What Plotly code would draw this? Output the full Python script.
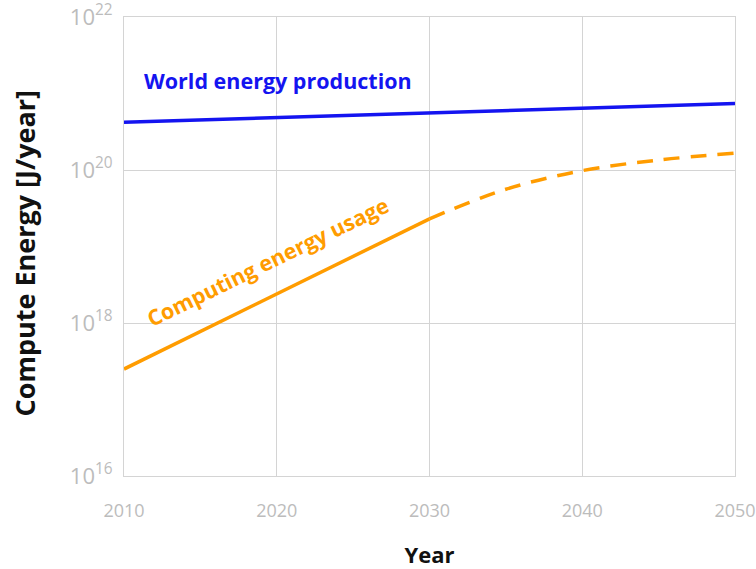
import plotly.graph_objects as go

years_world = [2010, 2030, 2050]
world_energy = [4.2e20, 5.6e20, 7.4e20]

years_compute_solid = [2010, 2030]
compute_solid = [2.5e17, 2.3e19]

years_compute_proj = [2030, 2035, 2040, 2045, 2050]
compute_proj = [2.3e19, 5.6e19, 9.8e19, 1.35e20, 1.66e20]

x_ticks = [2010, 2020, 2030, 2040, 2050]
y_tickvals = [1e16, 1e18, 1e20, 1e22]
y_ticktext = ["10<sup>16</sup>", "10<sup>18</sup>", "10<sup>20</sup>", "10<sup>22</sup>"]

BLUE = "#1414f0"
ORANGE = "#ff9c00"
GRID = "#d4d4d4"
TICK = "#bcbcbc"
FONT = "Open Sans"

fig = go.Figure()
fig.add_trace(go.Scatter(x=years_world, y=world_energy, mode="lines",
                         line=dict(color=BLUE, width=3.5), hoverinfo="skip"))
fig.add_trace(go.Scatter(x=years_compute_solid, y=compute_solid, mode="lines",
                         line=dict(color=ORANGE, width=3.5), hoverinfo="skip"))
fig.add_trace(go.Scatter(x=years_compute_proj, y=compute_proj, mode="lines",
                         line=dict(color=ORANGE, width=3.5, dash="16px,11px", shape="spline"),
                         hoverinfo="skip"))

fig.add_annotation(x=2020.1, y=21.17, xref="x", yref="y", text="<b>World energy production</b>",
                   showarrow=False, font=dict(color=BLUE, size=21.5, family=FONT))
fig.add_annotation(x=2019.4, y=18.8, xref="x", yref="y", text="<b>Computing energy usage</b>",
                   showarrow=False, textangle=-26, font=dict(color=ORANGE, size=21.5, family=FONT))
# y-axis title placed as annotation for exact positioning
fig.add_annotation(x=-0.162, y=0.4847, xref="paper", yref="paper", text="<b>Compute Energy [J/year]</b>",
                   showarrow=False, textangle=-90, xanchor="center", yanchor="middle",
                   font=dict(color="#111111", size=27, family=FONT))

fig.update_xaxes(range=[2010, 2050], tickvals=x_ticks, showgrid=True, gridcolor=GRID, gridwidth=1,
                 showline=True, linecolor=GRID, linewidth=1, mirror=True, zeroline=False,
                 automargin=False, ticklabeloverflow="allow",
                 ticks="", tickfont=dict(color=TICK, size=18, family=FONT), ticklabelstandoff=18,
                 title=dict(text="<b>Year</b>", font=dict(color="#111111", size=22, family=FONT), standoff=36))
fig.update_yaxes(type="log", range=[16, 22], tickvals=y_tickvals, ticktext=y_ticktext,
                 showgrid=True, gridcolor=GRID, gridwidth=1,
                 showline=True, linecolor=GRID, linewidth=1, mirror=True, zeroline=False,
                 automargin=False, ticklabeloverflow="allow",
                 ticks="", tickfont=dict(color=TICK, size=22, family=FONT), ticklabelstandoff=6)

fig.update_layout(width=756, height=569, margin=dict(l=124, r=21, t=17, b=93, autoexpand=False),
                  plot_bgcolor="white", paper_bgcolor="white", showlegend=False)

fig.write_html("out.html")
